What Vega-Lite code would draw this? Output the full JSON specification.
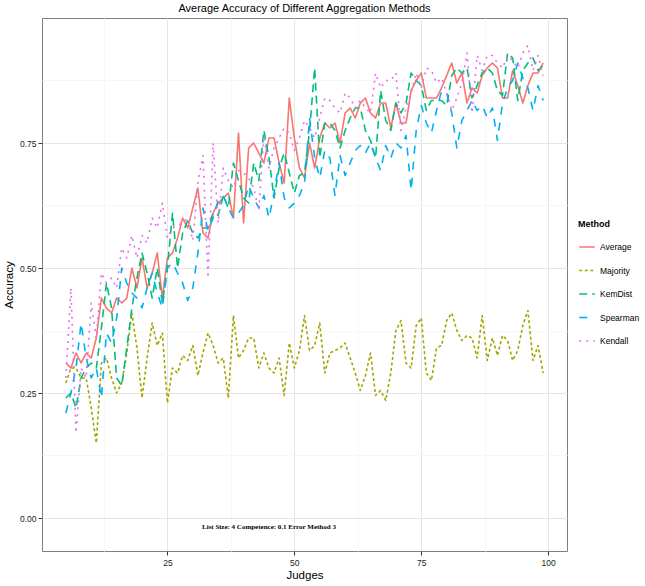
{
 "$schema": "https://vega.github.io/schema/vega-lite/v6.json",
 "autosize": {"type": "none"},
 "width": 525,
 "height": 533,
 "padding": {"left": 42, "top": 18, "right": 78, "bottom": 35},
 "background": "white",
 "title": {"text": "Average Accuracy of Different Aggregation Methods", "anchor": "middle", "fontSize": 11, "font": "Liberation Sans", "fontWeight": "normal", "offset": 4, "color": "black"},
 "config": {"view": {"stroke": "#7f7f7f", "strokeWidth": 1}},
 "layer": [
  {
   "data": {"values": [
    {"Judges":5,"Average":0.31,"Majority":0.27,"KemDist":0.24,"Spearman":0.21,"Kendall":0.28},
    {"Judges":6,"Average":0.30,"Majority":0.30,"KemDist":0.25,"Spearman":0.25,"Kendall":0.46},
    {"Judges":7,"Average":0.33,"Majority":0.30,"KemDist":0.22,"Spearman":0.30,"Kendall":0.17},
    {"Judges":8,"Average":0.31,"Majority":0.28,"KemDist":0.28,"Spearman":0.39,"Kendall":0.30},
    {"Judges":9,"Average":0.33,"Majority":0.28,"KemDist":0.30,"Spearman":0.32,"Kendall":0.28},
    {"Judges":10,"Average":0.32,"Majority":0.22,"KemDist":0.31,"Spearman":0.28,"Kendall":0.43},
    {"Judges":11,"Average":0.36,"Majority":0.15,"KemDist":0.30,"Spearman":0.30,"Kendall":0.36},
    {"Judges":12,"Average":0.44,"Majority":0.31,"KemDist":0.38,"Spearman":0.24,"Kendall":0.49},
    {"Judges":13,"Average":0.42,"Majority":0.32,"KemDist":0.47,"Spearman":0.37,"Kendall":0.47},
    {"Judges":14,"Average":0.41,"Majority":0.28,"KemDist":0.42,"Spearman":0.35,"Kendall":0.48},
    {"Judges":15,"Average":0.44,"Majority":0.25,"KemDist":0.28,"Spearman":0.40,"Kendall":0.46},
    {"Judges":16,"Average":0.43,"Majority":0.27,"KemDist":0.265,"Spearman":0.50,"Kendall":0.54},
    {"Judges":17,"Average":0.44,"Majority":0.33,"KemDist":0.34,"Spearman":0.47,"Kendall":0.52},
    {"Judges":18,"Average":0.50,"Majority":0.41,"KemDist":0.42,"Spearman":0.45,"Kendall":0.565},
    {"Judges":19,"Average":0.46,"Majority":0.34,"KemDist":0.48,"Spearman":0.44,"Kendall":0.52},
    {"Judges":20,"Average":0.52,"Majority":0.24,"KemDist":0.53,"Spearman":0.42,"Kendall":0.565},
    {"Judges":21,"Average":0.46,"Majority":0.32,"KemDist":0.49,"Spearman":0.46,"Kendall":0.55},
    {"Judges":22,"Average":0.49,"Majority":0.39,"KemDist":0.44,"Spearman":0.49,"Kendall":0.60},
    {"Judges":23,"Average":0.53,"Majority":0.345,"KemDist":0.50,"Spearman":0.45,"Kendall":0.58},
    {"Judges":24,"Average":0.44,"Majority":0.37,"KemDist":0.43,"Spearman":0.42,"Kendall":0.63},
    {"Judges":25,"Average":0.52,"Majority":0.23,"KemDist":0.50,"Spearman":0.50,"Kendall":0.56},
    {"Judges":26,"Average":0.53,"Majority":0.30,"KemDist":0.61,"Spearman":0.51,"Kendall":0.58},
    {"Judges":27,"Average":0.56,"Majority":0.29,"KemDist":0.50,"Spearman":0.49,"Kendall":0.585},
    {"Judges":28,"Average":0.60,"Majority":0.325,"KemDist":0.57,"Spearman":0.47,"Kendall":0.59},
    {"Judges":29,"Average":0.58,"Majority":0.315,"KemDist":0.595,"Spearman":0.435,"Kendall":0.60},
    {"Judges":30,"Average":0.62,"Majority":0.345,"KemDist":0.57,"Spearman":0.46,"Kendall":0.555},
    {"Judges":31,"Average":0.66,"Majority":0.285,"KemDist":0.56,"Spearman":0.53,"Kendall":0.67},
    {"Judges":32,"Average":0.57,"Majority":0.33,"KemDist":0.58,"Spearman":0.62,"Kendall":0.725},
    {"Judges":33,"Average":0.56,"Majority":0.37,"KemDist":0.58,"Spearman":0.575,"Kendall":0.48},
    {"Judges":34,"Average":0.61,"Majority":0.345,"KemDist":0.61,"Spearman":0.60,"Kendall":0.75},
    {"Judges":35,"Average":0.63,"Majority":0.31,"KemDist":0.605,"Spearman":0.635,"Kendall":0.59},
    {"Judges":36,"Average":0.64,"Majority":0.32,"KemDist":0.645,"Spearman":0.645,"Kendall":0.70},
    {"Judges":37,"Average":0.65,"Majority":0.24,"KemDist":0.62,"Spearman":0.62,"Kendall":0.675},
    {"Judges":38,"Average":0.60,"Majority":0.405,"KemDist":0.71,"Spearman":0.60,"Kendall":0.66},
    {"Judges":39,"Average":0.77,"Majority":0.32,"KemDist":0.675,"Spearman":0.61,"Kendall":0.695},
    {"Judges":40,"Average":0.59,"Majority":0.335,"KemDist":0.64,"Spearman":0.625,"Kendall":0.69},
    {"Judges":41,"Average":0.74,"Majority":0.36,"KemDist":0.63,"Spearman":0.665,"Kendall":0.68},
    {"Judges":42,"Average":0.75,"Majority":0.36,"KemDist":0.71,"Spearman":0.64,"Kendall":0.66},
    {"Judges":43,"Average":0.73,"Majority":0.30,"KemDist":0.675,"Spearman":0.62,"Kendall":0.615},
    {"Judges":44,"Average":0.71,"Majority":0.33,"KemDist":0.775,"Spearman":0.645,"Kendall":0.765},
    {"Judges":45,"Average":0.76,"Majority":0.30,"KemDist":0.72,"Spearman":0.60,"Kendall":0.70},
    {"Judges":46,"Average":0.76,"Majority":0.29,"KemDist":0.64,"Spearman":0.65,"Kendall":0.74},
    {"Judges":47,"Average":0.71,"Majority":0.32,"KemDist":0.70,"Spearman":0.71,"Kendall":0.76},
    {"Judges":48,"Average":0.67,"Majority":0.245,"KemDist":0.73,"Spearman":0.64,"Kendall":0.78},
    {"Judges":49,"Average":0.84,"Majority":0.35,"KemDist":0.69,"Spearman":0.62,"Kendall":0.77},
    {"Judges":50,"Average":0.76,"Majority":0.30,"KemDist":0.65,"Spearman":0.63,"Kendall":0.735},
    {"Judges":51,"Average":0.70,"Majority":0.335,"KemDist":0.685,"Spearman":0.645,"Kendall":0.76},
    {"Judges":52,"Average":0.68,"Majority":0.405,"KemDist":0.69,"Spearman":0.67,"Kendall":0.795},
    {"Judges":53,"Average":0.75,"Majority":0.335,"KemDist":0.775,"Spearman":0.80,"Kendall":0.78},
    {"Judges":54,"Average":0.70,"Majority":0.345,"KemDist":0.90,"Spearman":0.72,"Kendall":0.76},
    {"Judges":55,"Average":0.76,"Majority":0.39,"KemDist":0.72,"Spearman":0.68,"Kendall":0.80},
    {"Judges":56,"Average":0.79,"Majority":0.29,"KemDist":0.79,"Spearman":0.735,"Kendall":0.84},
    {"Judges":57,"Average":0.78,"Majority":0.33,"KemDist":0.79,"Spearman":0.72,"Kendall":0.835},
    {"Judges":58,"Average":0.79,"Majority":0.335,"KemDist":0.775,"Spearman":0.645,"Kendall":0.82},
    {"Judges":59,"Average":0.75,"Majority":0.34,"KemDist":0.74,"Spearman":0.725,"Kendall":0.81},
    {"Judges":60,"Average":0.81,"Majority":0.35,"KemDist":0.775,"Spearman":0.685,"Kendall":0.85},
    {"Judges":61,"Average":0.82,"Majority":0.32,"KemDist":0.80,"Spearman":0.71,"Kendall":0.84},
    {"Judges":62,"Average":0.80,"Majority":0.29,"KemDist":0.82,"Spearman":0.735,"Kendall":0.82},
    {"Judges":63,"Average":0.83,"Majority":0.255,"KemDist":0.82,"Spearman":0.745,"Kendall":0.835},
    {"Judges":64,"Average":0.84,"Majority":0.285,"KemDist":0.775,"Spearman":0.73,"Kendall":0.82},
    {"Judges":65,"Average":0.81,"Majority":0.33,"KemDist":0.755,"Spearman":0.75,"Kendall":0.81},
    {"Judges":66,"Average":0.80,"Majority":0.245,"KemDist":0.72,"Spearman":0.72,"Kendall":0.89},
    {"Judges":67,"Average":0.83,"Majority":0.255,"KemDist":0.855,"Spearman":0.695,"Kendall":0.86},
    {"Judges":68,"Average":0.83,"Majority":0.235,"KemDist":0.795,"Spearman":0.745,"Kendall":0.875},
    {"Judges":69,"Average":0.78,"Majority":0.29,"KemDist":0.775,"Spearman":0.72,"Kendall":0.875},
    {"Judges":70,"Average":0.83,"Majority":0.375,"KemDist":0.83,"Spearman":0.75,"Kendall":0.89},
    {"Judges":71,"Average":0.79,"Majority":0.395,"KemDist":0.81,"Spearman":0.74,"Kendall":0.775},
    {"Judges":72,"Average":0.79,"Majority":0.31,"KemDist":0.83,"Spearman":0.765,"Kendall":0.82},
    {"Judges":73,"Average":0.855,"Majority":0.30,"KemDist":0.89,"Spearman":0.655,"Kendall":0.85},
    {"Judges":74,"Average":0.875,"Majority":0.385,"KemDist":0.875,"Spearman":0.775,"Kendall":0.89},
    {"Judges":75,"Average":0.89,"Majority":0.40,"KemDist":0.865,"Spearman":0.825,"Kendall":0.86},
    {"Judges":76,"Average":0.84,"Majority":0.29,"KemDist":0.815,"Spearman":0.79,"Kendall":0.90},
    {"Judges":77,"Average":0.84,"Majority":0.275,"KemDist":0.835,"Spearman":0.77,"Kendall":0.895},
    {"Judges":78,"Average":0.84,"Majority":0.34,"KemDist":0.835,"Spearman":0.815,"Kendall":0.87},
    {"Judges":79,"Average":0.86,"Majority":0.345,"KemDist":0.835,"Spearman":0.855,"Kendall":0.88},
    {"Judges":80,"Average":0.885,"Majority":0.395,"KemDist":0.825,"Spearman":0.85,"Kendall":0.85},
    {"Judges":81,"Average":0.91,"Majority":0.41,"KemDist":0.885,"Spearman":0.81,"Kendall":0.815},
    {"Judges":82,"Average":0.87,"Majority":0.375,"KemDist":0.90,"Spearman":0.74,"Kendall":0.84},
    {"Judges":83,"Average":0.89,"Majority":0.355,"KemDist":0.89,"Spearman":0.795,"Kendall":0.87},
    {"Judges":84,"Average":0.83,"Majority":0.365,"KemDist":0.90,"Spearman":0.815,"Kendall":0.93},
    {"Judges":85,"Average":0.86,"Majority":0.36,"KemDist":0.84,"Spearman":0.835,"Kendall":0.81},
    {"Judges":86,"Average":0.85,"Majority":0.32,"KemDist":0.865,"Spearman":0.815,"Kendall":0.925},
    {"Judges":87,"Average":0.885,"Majority":0.405,"KemDist":0.89,"Spearman":0.825,"Kendall":0.895},
    {"Judges":88,"Average":0.90,"Majority":0.315,"KemDist":0.90,"Spearman":0.80,"Kendall":0.925},
    {"Judges":89,"Average":0.91,"Majority":0.36,"KemDist":0.89,"Spearman":0.82,"Kendall":0.925},
    {"Judges":90,"Average":0.90,"Majority":0.325,"KemDist":0.855,"Spearman":0.755,"Kendall":0.91},
    {"Judges":91,"Average":0.84,"Majority":0.365,"KemDist":0.845,"Spearman":0.83,"Kendall":0.90},
    {"Judges":92,"Average":0.84,"Majority":0.355,"KemDist":0.93,"Spearman":0.86,"Kendall":0.925},
    {"Judges":93,"Average":0.895,"Majority":0.315,"KemDist":0.92,"Spearman":0.875,"Kendall":0.915},
    {"Judges":94,"Average":0.865,"Majority":0.335,"KemDist":0.835,"Spearman":0.91,"Kendall":0.90},
    {"Judges":95,"Average":0.83,"Majority":0.385,"KemDist":0.895,"Spearman":0.88,"Kendall":0.93},
    {"Judges":96,"Average":0.865,"Majority":0.415,"KemDist":0.91,"Spearman":0.86,"Kendall":0.945},
    {"Judges":97,"Average":0.89,"Majority":0.315,"KemDist":0.92,"Spearman":0.815,"Kendall":0.895},
    {"Judges":98,"Average":0.89,"Majority":0.345,"KemDist":0.895,"Spearman":0.865,"Kendall":0.925},
    {"Judges":99,"Average":0.91,"Majority":0.29,"KemDist":0.905,"Spearman":0.835,"Kendall":0.885}
   ]},
   "transform": [{"fold": ["Average", "Majority", "KemDist", "Spearman", "Kendall"], "as": ["Method", "Accuracy"]}],
   "mark": {"type": "line", "strokeWidth": 1.6, "strokeCap": "butt", "strokeJoin": "round"},
   "encoding": {
    "x": {"field": "Judges", "type": "quantitative", "scale": {"domain": [0.3, 103.7], "nice": false, "zero": false},
     "axis": {"title": "Judges", "values": [12.5, 25, 37.5, 50, 62.5, 75, 87.5, 100], "format": "d",
      "labelExpr": "datum.value % 25 === 0 ? datum.label : ''",
      "gridColor": {"condition": {"test": "datum.value % 25 === 0", "value": "#e5e5e5"}, "value": "#f7f7f7"},
      "tickOpacity": {"condition": {"test": "datum.value % 25 === 0", "value": 1}, "value": 0},
      "domain": false, "tickColor": "#333333", "tickSize": 4, "labelColor": "#222222", "labelFontSize": 8.5,
      "labelFont": "Liberation Sans", "labelPadding": 3,
      "titleFont": "Liberation Sans", "titleFontSize": 11.5, "titleFontWeight": "normal", "titleColor": "black", "titlePadding": 3}},
    "y": {"field": "Accuracy", "type": "quantitative", "scale": {"domain": [-0.066, 1.0], "nice": false, "zero": false},
     "axis": {"title": "Accuracy", "values": [0, 0.125, 0.25, 0.375, 0.5, 0.625, 0.75, 0.875], "format": ".2f",
      "labelExpr": "datum.value * 4 === round(datum.value * 4) ? datum.label : ''",
      "gridColor": {"condition": {"test": "datum.value * 4 === round(datum.value * 4)", "value": "#e5e5e5"}, "value": "#f7f7f7"},
      "tickOpacity": {"condition": {"test": "datum.value * 4 === round(datum.value * 4)", "value": 1}, "value": 0},
      "domain": false, "tickColor": "#333333", "tickSize": 4, "labelColor": "#222222", "labelFontSize": 8.5,
      "labelFont": "Liberation Sans", "labelPadding": 2,
      "titleFont": "Liberation Sans", "titleFontSize": 11.5, "titleFontWeight": "normal", "titleColor": "black", "titlePadding": 5}},
    "color": {"field": "Method", "type": "nominal",
     "scale": {"domain": ["Average", "Majority", "KemDist", "Spearman", "Kendall"], "range": ["#F8766D", "#A3A500", "#00BF7D", "#00B0F6", "#E76BF3"]},
     "legend": {"title": "Method", "orient": "none", "legendX": 536, "legendY": 202, "symbolType": "stroke", "symbolSize": 240, "symbolStrokeWidth": 1.6,
      "titleFont": "Liberation Sans", "titleFontSize": 9, "titleFontWeight": "bold", "titleColor": "black", "titlePadding": 9,
      "labelFont": "Liberation Sans", "labelFontSize": 8.5, "labelColor": "black", "rowPadding": 9.5, "labelOffset": 4}},
    "strokeDash": {"field": "Method", "type": "nominal",
     "scale": {"domain": ["Average", "Majority", "KemDist", "Spearman", "Kendall"], "range": [[1, 0], [3, 2.5], [8, 5], [8, 8], [2, 5]]},
     "legend": {"title": "Method", "orient": "none", "legendX": 536, "legendY": 202, "symbolType": "stroke", "symbolSize": 240, "symbolStrokeWidth": 1.6,
      "titleFont": "Liberation Sans", "titleFontSize": 9, "titleFontWeight": "bold", "titleColor": "black", "titlePadding": 9,
      "labelFont": "Liberation Sans", "labelFontSize": 8.5, "labelColor": "black", "rowPadding": 9.5, "labelOffset": 4}}
   }
  },
  {
   "data": {"values": [{"Judges": 45, "Accuracy": -0.018, "label": "List Size: 4 Competence: 0.1 Error Method 3"}]},
   "mark": {"type": "text", "font": "Liberation Serif", "fontWeight": "bold", "fontSize": 7, "color": "black"},
   "encoding": {
    "x": {"field": "Judges", "type": "quantitative"},
    "y": {"field": "Accuracy", "type": "quantitative"},
    "text": {"field": "label"}
   }
  }
 ]
}
